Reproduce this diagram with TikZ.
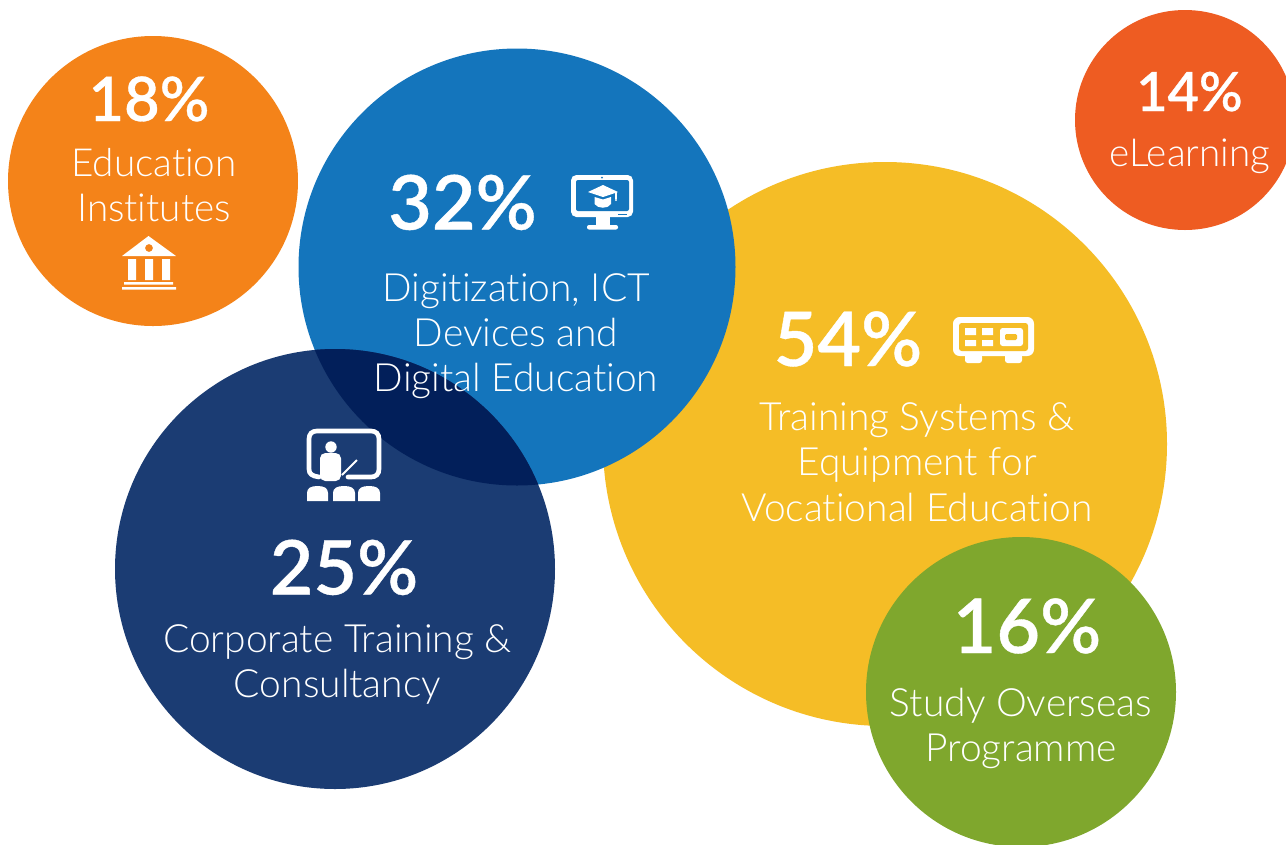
\documentclass[tikz,border=0pt]{standalone}
\usepackage{fontspec}
\setmainfont{Lato}[UprightFont=* Light,BoldFont=* Semibold,BoldFeatures={FakeBold=0.5},Ligatures={NoCommon}]
\definecolor{corange}{HTML}{F48319}
\definecolor{cblue}{HTML}{1475BC}
\definecolor{cyellow}{HTML}{F5BD26}
\definecolor{cnavy}{HTML}{1B3C73}
\definecolor{cgreen}{HTML}{7FA72D}
\definecolor{cred}{HTML}{EE5C22}
\definecolor{cdark}{HTML}{021F5A}
\newcommand{\txt}[1]{\fontsize{#1}{#1}\selectfont}
\tikzset{
  bubble/.style={circle,inner sep=0pt,outer sep=0pt,minimum size=#1*0.75pt},
  pct/.style={text=white,font=\txt{#1}\bfseries,inner sep=0pt,anchor=base},
  lbl/.style={text=white,font=\txt{#1},inner sep=0pt,anchor=base},
  ico/.style={fill=white,draw=none},
  icol/.style={draw=white,fill=none}
}
\begin{document}
\begin{tikzpicture}[x=0.75pt,y=-0.75pt]
\useasboundingbox (0,0) rectangle (1286,844);
\clip (0,0) rectangle (1286,844);
\fill[white] (0,0) rectangle (1286,844);
% circles
\node[bubble=564,fill=cyellow] (yc) at (885,444) {};
\node[bubble=310,fill=cgreen] (gc) at (1021,692) {};
\node[bubble=220,fill=cred] (rc) at (1185,120) {};
\node[bubble=290,fill=corange] (oc) at (153,181) {};
\node[bubble=437,fill=cblue] (bc) at (517,267) {};
\node[bubble=440,fill=cnavy] (nc) at (335,569) {};
\begin{scope}
\clip (517,267) circle[radius=218.5];
\fill[cdark] (335,569) circle[radius=220];
\end{scope}
% texts
\node[pct=46] (t18) at (149,121) {18\%};
\node[lbl=29] (o1) at (154,176) {Education};
\node[lbl=29] (o2) at (154,221) {Institutes};
\node[pct=40.5] (t14) at (1189.5,111) {14\%};
\node[lbl=29] (r1) at (1190,166) {eLearning};
\node[pct=56.5] (t32) at (462.5,229.5) {32\%};
\node[lbl=29.2] (b1) at (516,301) {Digitization, ICT};
\node[lbl=29.2] (b2) at (516,346) {Devices and};
\node[lbl=29.2] (b3) at (516,391.5) {Digital Education};
\node[pct=56.5] (t54) at (848,366) {54\%};
\node[lbl=29.2] (y1) at (917,430) {Training Systems \&};
\node[lbl=29.2] (y2) at (917,475) {Equipment for};
\node[lbl=29.2] (y3) at (917,521) {Vocational Education};
\node[pct=56.5] (t25) at (344,594.5) {25\%};
\node[lbl=29.2] (n1) at (337.5,652) {Corporate Training \&};
\node[lbl=29.2] (n2) at (337.5,697) {Consultancy};
\node[pct=56.5] (t16) at (1027,653) {16\%};
\node[lbl=29.2] (g1) at (1021,716) {Study Overseas};
\node[lbl=29.2] (g2) at (1021,761) {Programme};
% bank icon
\fill[ico,even odd rule] (122,256) -- (148.5,236) -- (176,256) -- cycle (149,248) circle[radius=4];
\fill[ico] (128,259) rectangle (136,280) (145,259) rectangle (153,280) (162,259) rectangle (170,280);
\fill[ico] (124,282) rectangle (173,284.5) (122,287) rectangle (176,289.5);
% monitor icon
\fill[ico,rounded corners=4pt] (571,175) rectangle (633,217);
\fill[cblue,rounded corners=1.5pt] (576,180) rectangle (629,211);
\fill[cblue] (602,177.7) circle[radius=1];
\fill[cblue] (618,213.5) rectangle (627,214.7);
\fill[ico] (596,217) rectangle (610,225);
\fill[ico,rounded corners=1.5pt] (587,225) rectangle (618,229.5);
\fill[ico] (588,192) -- (603,185) -- (618,192) -- (603,197) -- cycle;
\fill[ico] (594.5,197) -- (603,199.5) -- (611,197) -- (611,204) .. controls (608,209) and (598,209) .. (594.5,204) -- cycle;
\draw[white,line width=0.8pt] (616,192) -- (616,199);
\fill[ico] (616,200) circle[radius=1.1];
% projector icon
\fill[ico,rounded corners=5pt] (953,317) rectangle (1034,356);
\fill[cyellow,rounded corners=2pt] (959,323) rectangle (1028,351);
\fill[ico] (965,328) rectangle (976,335) (965,340) rectangle (976,346) (982,328) rectangle (993,335) (982,340) rectangle (993,346);
\fill[ico,rounded corners=2pt] (1000,328) rectangle (1023,346);
\fill[cyellow,rounded corners=1pt] (1005,334) rectangle (1017,340);
\fill[ico,rounded corners=2pt] (965,354) rectangle (982,363) (1005,354) rectangle (1022,363);
% teacher icon
\draw[icol,line width=3.5pt,line cap=round] (319,477) .. controls (312,476) and (309,474) .. (309,469) -- (309,439) .. controls (309,434) and (312,431) .. (317,431) -- (371,431) .. controls (376,431) and (379,434) .. (379,439) -- (379,469) .. controls (379,474) and (376,477) .. (371,477) -- (348,477);
\fill[ico] (331,447) circle[radius=5.7];
\fill[ico,rounded corners=4pt] (320,481) -- (320,453) -- (341,453) -- (341,481) -- cycle;
\draw[white,line width=1.4pt] (342,475) -- (357,460);
\fill[ico] (307,501) -- (307,493) .. controls (307,488) and (311,486) .. (317.5,486) .. controls (324,486) and (328,488) .. (328,493) -- (328,501) -- cycle;
\fill[ico] (333,501) -- (333,493) .. controls (333,488) and (337,486) .. (344,486) .. controls (351,486) and (355,488) .. (355,493) -- (355,501) -- cycle;
\fill[ico] (358,501) -- (358,493) .. controls (358,488) and (362,486) .. (369,486) .. controls (376,486) and (380,488) .. (380,493) -- (380,501) -- cycle;
\end{tikzpicture}
\end{document}
